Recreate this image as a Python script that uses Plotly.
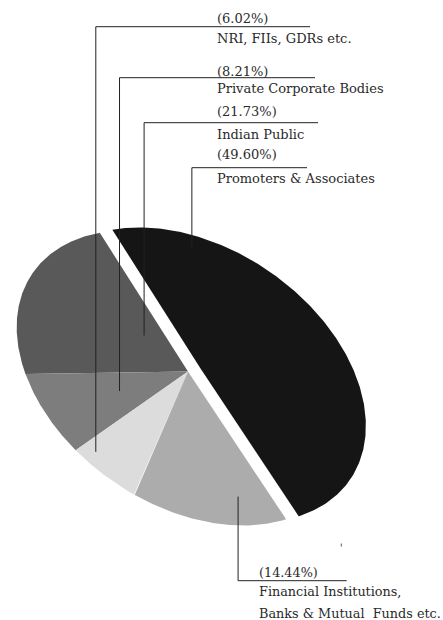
import numpy as np
import plotly.graph_objects as go

# Shareholding pattern
categories = [
    "Promoters & Associates",
    "Indian Public",
    "Private Corporate Bodies",
    "NRI, FIIs, GDRs etc.",
    "Financial Institutions,<br>Banks & Mutual\u00a0 Funds etc.",
]
shares = [49.60, 21.73, 8.21, 6.02, 14.44]
slice_colors = ["#151515", "#595959", "#7d7d7d", "#dcdcdc", "#acacac"]
pull_px = [12.9, 0, 0, 0, 0]

# Tilted-disc geometry, in page pixels
CX, CY = 185.0, 378.0          # centre of the outline ellipse
A_AX, B_AX = 185.0, 126.0      # semi-axes
TILT = np.deg2rad(34.5)        # rotation of the major axis
PERSP = np.array([-0.0065, -0.0558])  # perspective shift of the disc centre
START = 30.6                   # first slice edge (deg), slices run clockwise in disc angle

# Label layout (per category)
rule_y = [167.7, 122.7, 77.7, 26.7, 580.7]
rule_end = [307, 318, 315, 310, 346.7]
text_x = [215, 215, 215, 215, 256.7]
text_size = [13, 13, 13, 13, 12.8]
pct_y = [154.7, 111.3, 71.2, 18.3, 572.7]
name_y = [178.8, 134.7, 88.7, 38.3, 591.7]
name_gap = 21.6
# where each leader touches its slice: (fraction along slice, fraction of radius)
anchor_frac = [0.835, 0.318, 0.49, 0.20, 0.734]
anchor_rad = [0.90, 0.31, 0.49, 0.91, 0.82]

U = np.array([np.cos(TILT), np.sin(TILT)])
V = np.array([-np.sin(TILT), np.cos(TILT)])
T = float(np.hypot(*PERSP))
D = PERSP / T


def project(px, py):
    """Unit-disc coordinates -> page pixels, with a perspective tilt."""
    p = np.stack([np.atleast_1d(px), np.atleast_1d(py)], -1).astype(float)
    s = p @ D
    perp = p - s[:, None] * D
    pp = ((s + T)[:, None] * D + np.sqrt(1 - T * T) * perp) / (1 + T * s)[:, None]
    xy = np.array([CX, CY]) + A_AX * pp[:, :1] * U + B_AX * pp[:, 1:2] * V
    return xy[:, 0], xy[:, 1]


ax0, ay0 = project(0.0, 0.0)
ax0, ay0 = ax0[0], ay0[0]

total = sum(shares)
fig = go.Figure()
shapes = []
annotations = []
line_style = dict(color="#222222", width=1)

cum = 0.0
for i, (name, val) in enumerate(zip(categories, shares)):
    a0 = START - 360.0 * cum / total
    a1 = a0 - 360.0 * val / total
    cum += val
    ang = np.deg2rad(np.linspace(a0, a1, 240))
    xs, ys = project(np.cos(ang), np.sin(ang))

    # explode along the slice bisector
    am = np.deg2rad((a0 + a1) / 2)
    mx, my = project(np.cos(am), np.sin(am))
    dvec = np.array([mx[0] - ax0, my[0] - ay0])
    dvec /= np.linalg.norm(dvec)
    ox, oy = pull_px[i] * dvec

    fig.add_trace(go.Scatter(
        x=np.concatenate([[ax0], xs, [ax0]]) + ox,
        y=np.concatenate([[ay0], ys, [ay0]]) + oy,
        mode="lines", fill="toself", fillcolor=slice_colors[i],
        line=dict(width=0, color=slice_colors[i]),
        hoverinfo="skip", showlegend=False, name=name,
    ))

    # leader anchor inside the slice
    aa = np.deg2rad(a0 + anchor_frac[i] * (a1 - a0))
    px_, py_ = project(anchor_rad[i] * np.cos(aa), anchor_rad[i] * np.sin(aa))
    lx, ly = px_[0] + ox, py_[0] + oy

    shapes.append(dict(type="line", xref="x", yref="y", x0=lx, y0=ly,
                       x1=lx, y1=rule_y[i], line=line_style))
    shapes.append(dict(type="line", xref="x", yref="y", x0=lx, y0=rule_y[i],
                       x1=rule_end[i], y1=rule_y[i], line=line_style))

    font = dict(family="DejaVu Serif", size=text_size[i], color="#2a2a2a")
    annotations.append(dict(x=text_x[i], y=pct_y[i], xref="x", yref="y",
                            text=f"({val:.2f}%)", showarrow=False,
                            xanchor="left", yanchor="middle", font=font))
    for k, part in enumerate(name.split("<br>")):
        annotations.append(dict(x=text_x[i], y=name_y[i] + k * name_gap,
                                xref="x", yref="y", text=part, showarrow=False,
                                xanchor="left", yanchor="middle", font=font))

# small print speck near the lower label
shapes.append(dict(type="line", xref="x", yref="y", x0=341.3, y0=543.5,
                   x1=341.3, y1=546.5, line=dict(color="#555555", width=1)))

fig.update_layout(
    width=443, height=620,
    margin=dict(l=0, r=0, t=0, b=0),
    paper_bgcolor="white", plot_bgcolor="white",
    xaxis=dict(range=[0, 443], visible=False, fixedrange=True),
    yaxis=dict(range=[620, 0], visible=False, fixedrange=True),
    shapes=shapes, annotations=annotations,
)

fig.write_html("out.html")
